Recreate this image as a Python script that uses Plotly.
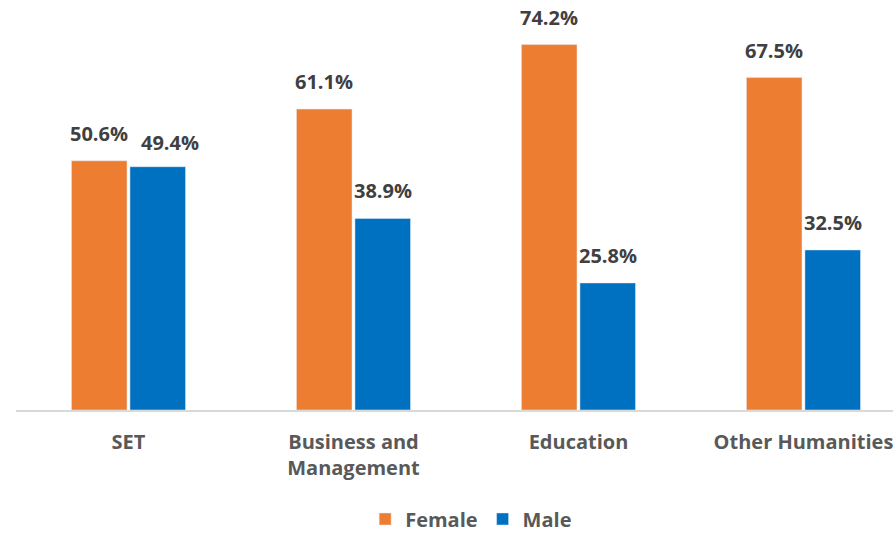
import plotly.graph_objects as go

categories = ["SET", "Business and<br>Management", "Education", "Other Humanities"]
female = [50.6, 61.1, 74.2, 67.5]
male = [49.4, 38.9, 25.8, 32.5]
# manual label nudges (px) as in the original, where the SET male label was moved aside
male_label_nudge = [(12, -3), (0, 0), (0, 0), (0, 0)]

FONT = "Open Sans"
fig = go.Figure()
fig.add_trace(go.Bar(name="Female", x=categories, y=female, marker_color="#ED7D31"))
fig.add_trace(go.Bar(name="Male", x=categories, y=male, marker_color="#0070C0"))

ann = []
for c, f, m, (nx, ny) in zip(categories, female, male, male_label_nudge):
    for v, sh, dy in ((f, -29.5, 0), (m, 29.5 + nx, ny)):
        ann.append(dict(x=c, y=v, text=f"<b>{v:.1f}%</b>", showarrow=False,
                        xshift=sh, yshift=12 + dy, yanchor="bottom",
                        font=dict(family=FONT, size=20, color="#404040")))

fig.update_layout(
    width=893, height=533,
    margin=dict(l=16, r=0, t=16, b=123, autoexpand=False),
    plot_bgcolor="white", paper_bgcolor="white",
    barmode="group", bargap=0.48, bargroupgap=0.05,
    font=dict(family=FONT, size=20, color="#595959"),
    xaxis=dict(range=[-0.5, 3.398], showline=True, linecolor="#D9D9D9", linewidth=2,
               tickfont=dict(family=FONT, size=20, color="#595959", weight="bold"),
               ticklabelstandoff=13, ticks="", automargin=False),
    yaxis=dict(range=[0, 80], visible=False, showgrid=False, automargin=False),
    legend=dict(orientation="h", x=0.519, xanchor="center", y=-0.2766, yanchor="middle",
                font=dict(family=FONT, size=20, color="#595959", weight="bold"),
                itemwidth=30),
    annotations=ann,
)
fig.write_html("out.html", config={"displayModeBar": False},
               post_script="document.body.style.margin='0';document.body.style.overflow='hidden';")
